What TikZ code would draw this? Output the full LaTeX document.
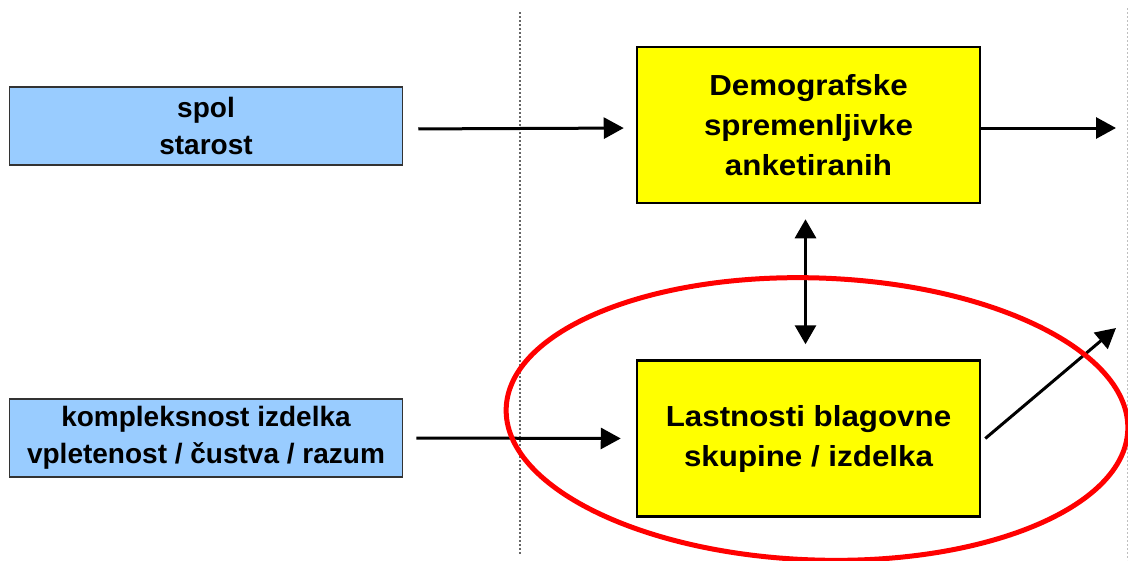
\documentclass[tikz,border=0pt]{standalone}
\usepackage{fontspec}
\setmainfont{Liberation Sans}
\newfontfamily\labelfont[FakeStretch=1.08]{Liberation Sans}
\usetikzlibrary{arrows.meta}

\definecolor{boxblue}{HTML}{99CCFF}
\definecolor{boxyellow}{HTML}{FFFF00}
\definecolor{edgegray}{HTML}{333333}

\tikzset{
  inbox/.style={draw=edgegray, line width=1.5pt, fill=boxblue,
    minimum width=393pt, minimum height=78pt, inner sep=0pt, align=center,
    font=\fontsize{28}{37}\selectfont\bfseries},
  corebox/.style={draw=black, line width=2.5pt, fill=boxyellow,
    minimum width=343pt, minimum height=156pt, inner sep=0pt, align=center,
    font=\labelfont\fontsize{29}{40}\selectfont\bfseries},
  flow/.style={line width=3pt, -{Triangle[length=20pt,width=21pt]}},
  twoway/.style={line width=3pt, {Triangle[length=19pt,width=21pt]}-{Triangle[length=19pt,width=21pt]}},
  divider/.style={gray!80!black, line width=1.2pt, dash pattern=on 2pt off 2pt},
  rim/.style={gray!50, line width=1pt, dash pattern=on 2pt off 2pt}
}

\begin{document}
\begin{tikzpicture}[x=1pt, y=-1pt]
  \useasboundingbox (0,0) rectangle (1128,560);

  % separators
  \draw[divider] (520,12) -- (520,555);
  \draw[rim] (1127,8) -- (1127,560);

  % input boxes
  \node[inbox] (b1) at (206,126) {spol\\starost};
  \node[inbox] (b2) at (206,438) {kompleksnost izdelka\\vpletenost / čustva / razum};

  % central boxes
  \node[corebox] (y1) at (808.5,125) {Demografske\\spremenljivke\\anketiranih};
  \node[corebox] (y2) at (808.5,438.5) {Lastnosti blagovne\\skupine / izdelka};

  % free ends on the right
  \coordinate (o1) at (1116,128);
  \coordinate (o2) at (1116,328);

  % connectors
  \draw[flow, shorten <=15pt, shorten >=12pt] ([yshift=-3pt]b1.east) -- ([yshift=-3pt]y1.west);
  \draw[flow, shorten <=13pt, shorten >=15pt] (b2.east) -- (y2.west);
  \draw[flow] ([yshift=-3pt]y1.east) -- (o1);
  \draw[twoway, shorten <=15pt, shorten >=15pt] ([xshift=-3pt]y1.south) -- ([xshift=-3pt]y2.north);
  \draw[flow] ([xshift=4pt]y2.east) -- (o2);

  % highlight
  \draw[red, line width=5pt, rotate around={-2:(817,419)}]
    (817,419) ellipse [x radius=311pt, y radius=141pt];
\end{tikzpicture}
\end{document}
